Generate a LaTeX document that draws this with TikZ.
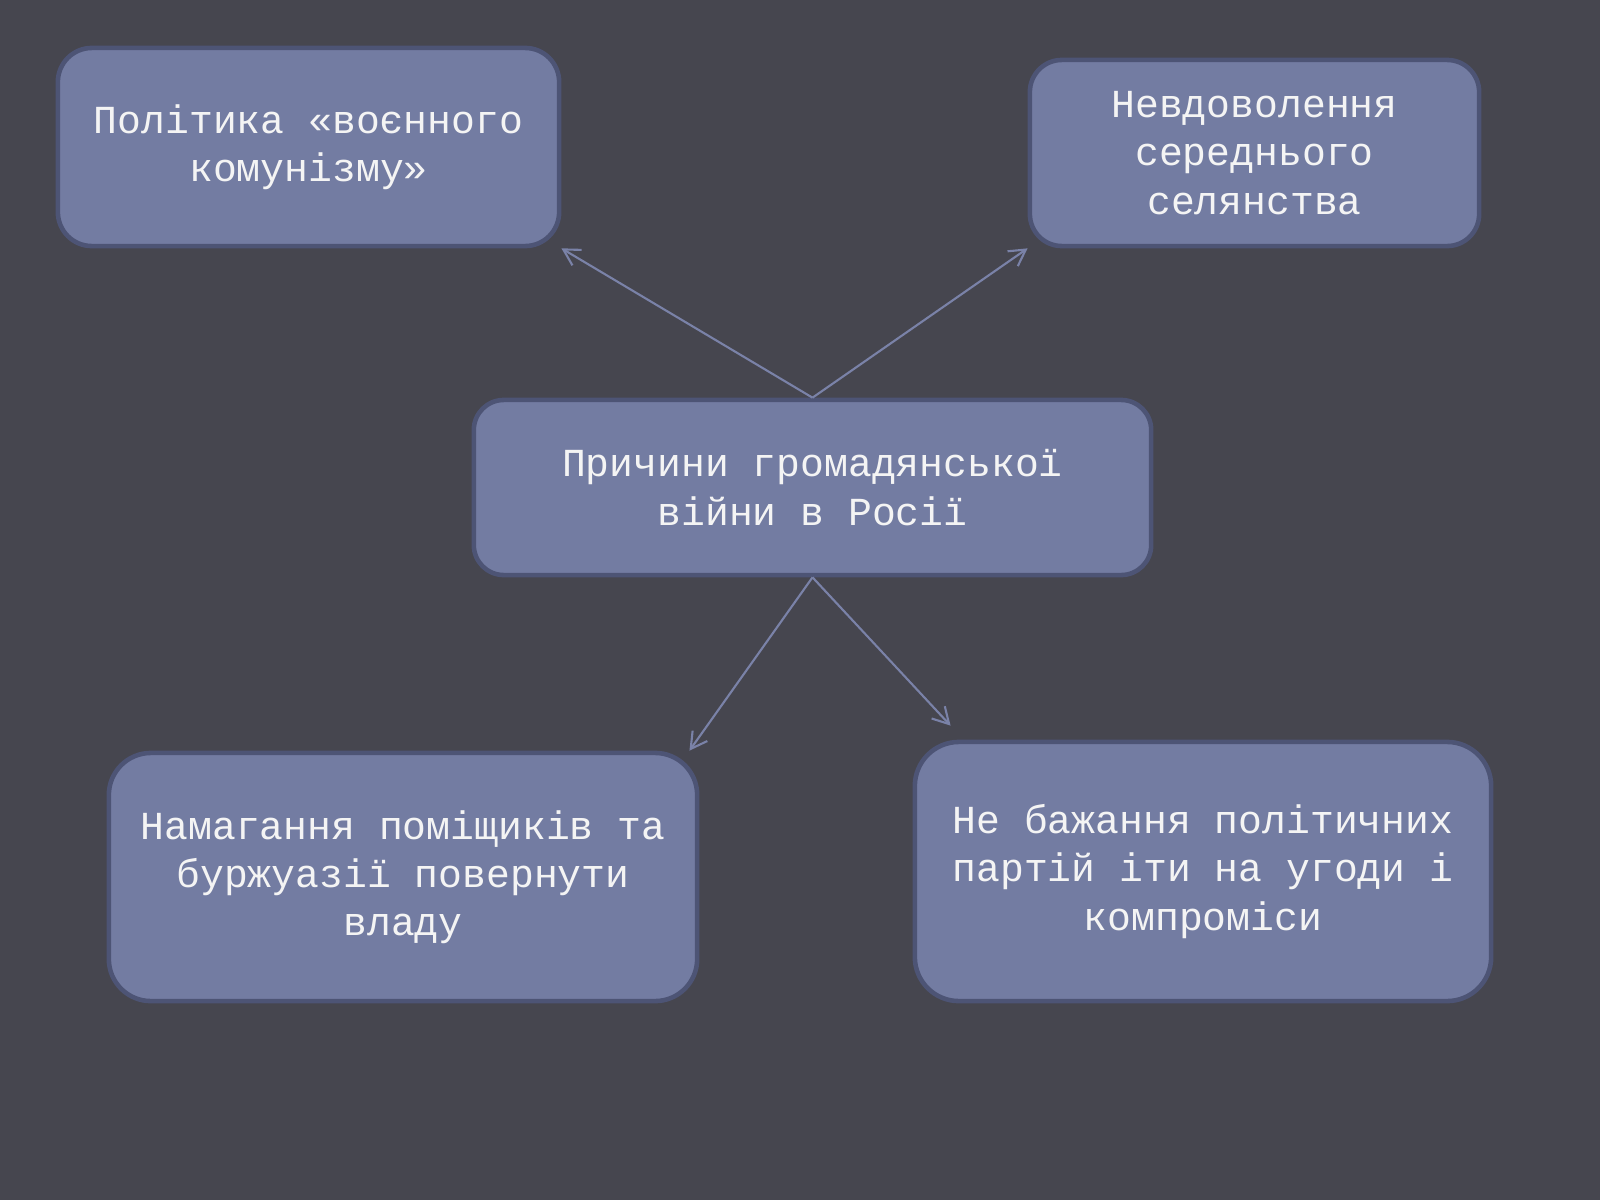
\documentclass[tikz,border=0pt]{standalone}
\usepackage{fontspec}
\setmainfont{Liberation Mono}
\setmonofont{Liberation Mono}
\usetikzlibrary{arrows.meta}
\definecolor{bgc}{HTML}{46464F}
\definecolor{boxfill}{HTML}{737CA2}
\definecolor{boxedge}{HTML}{4D5475}
\definecolor{linkc}{HTML}{7A82A8}
\definecolor{txtc}{HTML}{F4F4F4}
\begin{document}
\begin{tikzpicture}[x=0.01cm,y=-0.01cm,
  cause/.style={draw=boxedge, line width=1.3pt, fill=boxfill, text=txtc, align=center,
    font=\fontsize{11.3pt}{13.7pt}\selectfont, inner sep=0pt},
  link/.style={draw=linkc, line width=0.6pt, -{Straight Barb[length=1.6mm,width=1.8mm]}}]
\fill[bgc] (0,0) rectangle (1600,1200);
\useasboundingbox (0,0) rectangle (1600,1200);

\node[cause, minimum width=5.01cm, minimum height=1.98cm, rounded corners=0.34cm] (pol) at (308.5,147)
  {Політика «воєнного\\комунізму»};
\node[cause, minimum width=4.49cm, minimum height=1.86cm, rounded corners=0.32cm] (nev) at (1254.5,153)
  {Невдоволення\\середнього\\селянства};
\node[cause, minimum width=6.77cm, minimum height=1.75cm, rounded corners=0.30cm] (main) at (812.5,487.5)
  {Причини громадянської\\війни в Росії};
\node[cause, minimum width=5.88cm, minimum height=2.48cm, rounded corners=0.42cm] (nam) at (403,877)
  {Намагання поміщиків та\\буржуазії повернути\\владу};
\node[cause, minimum width=5.76cm, minimum height=2.59cm, rounded corners=0.44cm] (neb) at (1203,871.5)
  {Не бажання політичних\\партій іти на угоди і\\компроміси};

\draw[link] (main.north) -- (pol.south east);
\draw[link] (main.north) -- (nev.south west);
\draw[link] (main.south) -- ([xshift=-0.1cm]nam.north east);
\draw[link] (main.south) -- ([xshift=0.38cm,yshift=0.14cm]neb.north west);
\end{tikzpicture}
\end{document}
